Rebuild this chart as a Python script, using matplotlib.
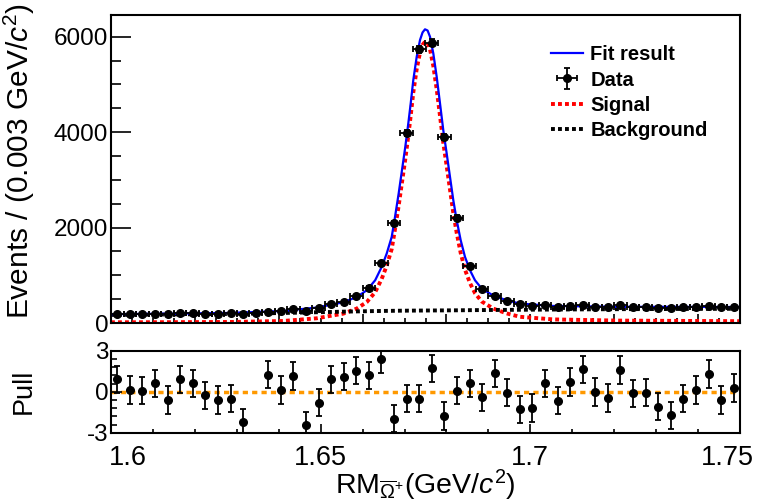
import numpy as np
import matplotlib
matplotlib.use("Agg")
import matplotlib.pyplot as plt
from matplotlib.lines import Line2D
from matplotlib.ticker import MultipleLocator, FixedLocator
from matplotlib.transforms import ScaledTranslation

plt.rcParams['font.family'] = ['Liberation Sans', 'DejaVu Sans']
plt.rcParams['mathtext.fontset'] = 'custom'
plt.rcParams['mathtext.rm'] = 'Liberation Sans'
plt.rcParams['mathtext.it'] = 'Liberation Sans:italic'
plt.rcParams['mathtext.bf'] = 'Liberation Sans:bold'

# ---------------- data ----------------
bin_centers = [1.6015 + 0.003 * i for i in range(50)]
counts = [197, 188, 188, 198, 184, 206, 203, 197, 195, 204,
          182, 212, 240, 252, 283, 248, 316, 395, 450, 560,
          742, 1250, 2090, 3975, 5735, 5874, 3889, 2211, 1196, 713,
          574, 455, 395, 353, 376, 343, 363, 377, 344, 334,
          370, 338, 338, 318, 306, 328, 339, 360, 325, 341]

pulls = [0.91, 0.12, 0.07, 0.61, -0.61, 0.91, 0.61, -0.27, -0.61, -0.51,
         -2.24, np.nan, 1.24, 0.12, 1.15, -2.46, -0.80, 0.91, 1.10, 1.54,
         1.20, 2.37, -1.98, -0.51, -0.51, 1.71, -1.78, 0.07, 0.61, -0.41,
         1.34, -0.07, -1.29, -1.19, 0.61, -0.66, 0.71, 1.64, -0.02, -0.46,
         1.59, -0.12, -0.07, -1.10, -1.73, -0.51, 0.12, 1.29, -0.61, 0.27]

curve_x = [1.6000, 1.6130, 1.6290, 1.6410, 1.6490, 1.6530, 1.6554, 1.6586,
           1.6610, 1.6630, 1.66455, 1.66575, 1.66694, 1.66773, 1.6686, 1.66939,
           1.67018, 1.6709, 1.67147, 1.67209, 1.6729, 1.67369, 1.6743, 1.67488,
           1.6755, 1.67607, 1.67686, 1.67767, 1.67846, 1.67924, 1.68005, 1.68084,
           1.68163, 1.68244, 1.68339, 1.68442, 1.68561, 1.6868, 1.6884, 1.69117,
           1.69436, 1.6975, 1.7055, 1.7214, 1.7500]
fit_y = [185, 195, 212, 252, 323, 392, 434, 545,
         686, 896, 1175, 1456, 1804, 2224, 2714, 3204,
         3692, 4183, 4602, 5091, 5580, 5930, 6090, 6155,
         6130, 6000, 5651, 5160, 4602, 4042, 3554, 3063,
         2574, 2154, 1735, 1385, 1105, 896, 722, 575,
         476, 407, 357, 340, 336]
bkg_y = [170, 178, 190, 210, 225, 232, 238, 243,
         247, 250, 252, 254, 255, 256, 257, 258,
         258, 259, 259, 260, 260, 261, 261, 262,
         262, 262, 263, 263, 264, 264, 265, 265,
         266, 266, 267, 268, 269, 270, 271, 273,
         275, 277, 282, 290, 298]
sig_y = [15, 17, 22, 42, 98, 160, 196, 302,
         439, 646, 923, 1202, 1549, 1968, 2457, 2946,
         3434, 3924, 4343, 4831, 5320, 5669, 5829, 5893,
         5868, 5738, 5388, 4897, 4338, 3778, 3289, 2798,
         2308, 1888, 1468, 1117, 836, 626, 451, 302,
         201, 130, 75, 50, 38]

x_ticks = [1.6, 1.65, 1.7, 1.75]
x_ticklabels = ['1.6', '1.65', '1.7', '1.75']
y_ticks = [0, 2000, 4000, 6000]
pull_ticks = [-3, 0, 3]

# ---------------- figure ----------------
W, H = 768, 504
fig = plt.figure(figsize=(W / 100, H / 100), dpi=100)
ax = fig.add_axes([111 / W, 1 - 323 / H, 629 / W, 308 / H])
axp = fig.add_axes([111 / W, 1 - 432.7 / H, 629 / W, 82 / H])

FS = 17.5
bin_w = 0.003
counts_a = np.array(counts, dtype=float)

ax.plot(curve_x, fit_y, color='#0000ff', lw=1.6, zorder=3)
ax.plot(curve_x, sig_y, color='#ff0000', lw=2.8, ls=(0, (1, 0.8)), zorder=2)
ax.plot(curve_x, bkg_y, color='black', lw=2.8, ls=(0, (1, 0.8)), zorder=2)
eb = ax.errorbar(bin_centers, counts, yerr=np.sqrt(counts_a), xerr=bin_w / 2,
                 fmt='o', color='black', ms=5.5, lw=1.3, capsize=2, capthick=1.3, zorder=4)

ax.set_xlim(1.6, 1.75)
ax.set_ylim(0, 6455)
ax.set_yticks(y_ticks)
ax.set_yticklabels([str(v) for v in y_ticks], fontsize=FS)
ax.yaxis.set_minor_locator(MultipleLocator(500))
ax.xaxis.set_major_locator(FixedLocator([1.6, 1.62, 1.64, 1.66, 1.68, 1.70, 1.72, 1.74]))
ax.xaxis.set_minor_locator(MultipleLocator(0.005))
ax.tick_params(axis='x', which='both', labelbottom=False)
ax.tick_params(direction='in', which='major', length=14.5, width=1.2)
ax.tick_params(direction='in', which='minor', length=7.5, width=1.2)
ax.tick_params(axis='x', which='major', length=6.7)
ax.tick_params(axis='x', which='minor', length=3.3)
ax.tick_params(axis='y', pad=2)
for s in ax.spines.values():
    s.set_linewidth(1.5)
ax.set_ylabel('Events / (0.003 GeV/$c^{2}$)', fontsize=21.5)
ax.yaxis.set_label_coords(-0.118, 0.525)

line_handle = Line2D([], [], color='#0000ff', lw=1.6)
sig_handle = Line2D([], [], color='#ff0000', lw=2.8, ls=(0, (1, 0.8)))
bkg_handle = Line2D([], [], color='black', lw=2.8, ls=(0, (1, 0.8)))
labels = ['Fit result', 'Data', 'Signal', 'Background']
leg = ax.legend([line_handle, eb, sig_handle, bkg_handle], labels, loc='upper left',
                bbox_to_anchor=(541 / W, 1 - 35 / H),
                bbox_transform=fig.transFigure, frameon=False,
                prop={'weight': 'bold', 'size': 14.5}, handlelength=1.6,
                handletextpad=0.35, labelspacing=0.32, borderpad=0)

# pull panel
axp.axhline(0, color='#ff9900', lw=2.5, ls=(0, (1.5, 1.2)), zorder=1)
axp.errorbar(bin_centers, pulls, yerr=1.0, fmt='o', color='black', ms=5.5,
             lw=1.3, capsize=2, capthick=1.3, zorder=3)
axp.set_xlim(1.6, 1.75)
axp.set_ylim(-3, 3)
axp.set_yticks(pull_ticks)
axp.set_yticklabels([str(v) for v in pull_ticks], fontsize=FS)
axp.yaxis.set_minor_locator(MultipleLocator(0.6))
axp.set_xticks(x_ticks)
axp.set_xticklabels(x_ticklabels, fontsize=19.5)
axp.xaxis.set_minor_locator(MultipleLocator(0.01))
axp.tick_params(direction='in', which='major', length=6.5, width=1.2)
axp.tick_params(direction='in', which='minor', length=3.2, width=1.2)
axp.tick_params(axis='y', which='major', length=8)
axp.tick_params(axis='y', which='minor', length=4)
axp.tick_params(axis='y', pad=2)
axp.tick_params(axis='x', pad=9)
for s in axp.spines.values():
    s.set_linewidth(1.5)
xl = axp.get_xticklabels()
xl[0].set_transform(xl[0].get_transform() + ScaledTranslation(0.17, 0, fig.dpi_scale_trans))
xl[-1].set_transform(xl[-1].get_transform() + ScaledTranslation(-0.13, 0, fig.dpi_scale_trans))
axp.set_ylabel('Pull', fontsize=19.5)
axp.yaxis.set_label_coords(-0.118, 0.5)
axp.set_xlabel(r'RM$_{\overline{\Omega}^{+}}$(GeV/$c^{2}$)', fontsize=20.5)
axp.xaxis.set_label_coords(0.5, -0.43)

fig.savefig('out.png', dpi=100)
